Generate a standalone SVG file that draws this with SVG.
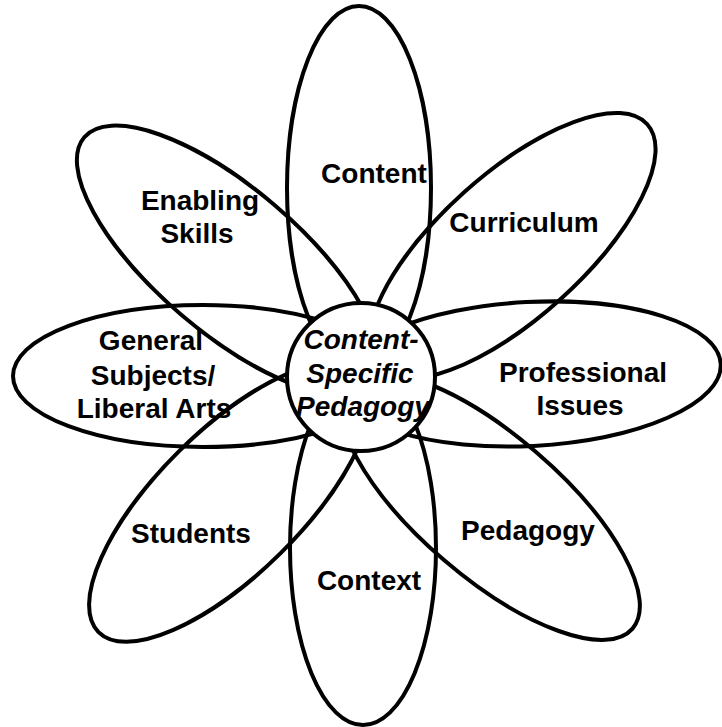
<svg xmlns="http://www.w3.org/2000/svg" width="722" height="727" viewBox="0 0 722 727">
  <style>
    .petal { fill: none; stroke: #000; stroke-width: 4; }
    .hub { fill: #fff; stroke: #000; stroke-width: 4; }
    .lbl { font-family: "Liberation Sans", Arial, Helvetica, sans-serif; font-weight: bold; font-size: 28px; fill: #000; text-anchor: middle; }
    .hubtxt { font-style: italic; }
  </style>
  <rect width="722" height="727" fill="#fff"/>

  <!-- petals radiating from the hub -->
  <g id="petal-content">
    <ellipse class="petal" cx="359" cy="188" rx="72" ry="182"/>
    <text class="lbl" x="374" y="183">Content</text>
  </g>
  <g id="petal-curriculum">
    <ellipse class="petal" cx="512" cy="246" rx="182" ry="72" transform="rotate(-42 512 246)"/>
    <text class="lbl" x="524" y="232">Curriculum</text>
  </g>
  <g id="petal-professional">
    <ellipse class="petal" cx="530" cy="374" rx="191" ry="72" transform="rotate(-3 530 374)"/>
    <text class="lbl" x="583" y="382">Professional</text>
    <text class="lbl" x="580" y="415">Issues</text>
  </g>
  <g id="petal-pedagogy">
    <ellipse class="petal" cx="490" cy="506" rx="188" ry="71" transform="rotate(40.7 490 506)"/>
    <text class="lbl" x="528" y="540">Pedagogy</text>
  </g>
  <g id="petal-context">
    <ellipse class="petal" cx="363" cy="548" rx="73" ry="177"/>
    <text class="lbl" x="369" y="590">Context</text>
  </g>
  <g id="petal-students">
    <ellipse class="petal" cx="230" cy="502" rx="185" ry="72" transform="rotate(-44.7 230 502)"/>
    <text class="lbl" x="191" y="543">Students</text>
  </g>
  <g id="petal-general">
    <ellipse class="petal" cx="203" cy="376" rx="190" ry="71"/>
    <text class="lbl" x="151" y="350">General</text>
    <text class="lbl" x="153" y="385">Subjects/</text>
    <text class="lbl" x="154" y="418">Liberal Arts</text>
  </g>
  <g id="petal-enabling">
    <ellipse class="petal" cx="228" cy="260" rx="189" ry="72" transform="rotate(40.5 228 260)"/>
    <text class="lbl" x="200" y="210">Enabling</text>
    <text class="lbl" x="197" y="243">Skills</text>
  </g>

  <!-- central hub drawn last so it covers the inner petal ends -->
  <g id="hub">
    <circle class="hub" cx="361" cy="377" r="74"/>
    <text class="lbl hubtxt" x="361" y="349">Content-</text>
    <text class="lbl hubtxt" x="360" y="383">Specific</text>
    <text class="lbl hubtxt" x="363" y="416">Pedagogy</text>
  </g>

  <g id="connectors"/>
</svg>
